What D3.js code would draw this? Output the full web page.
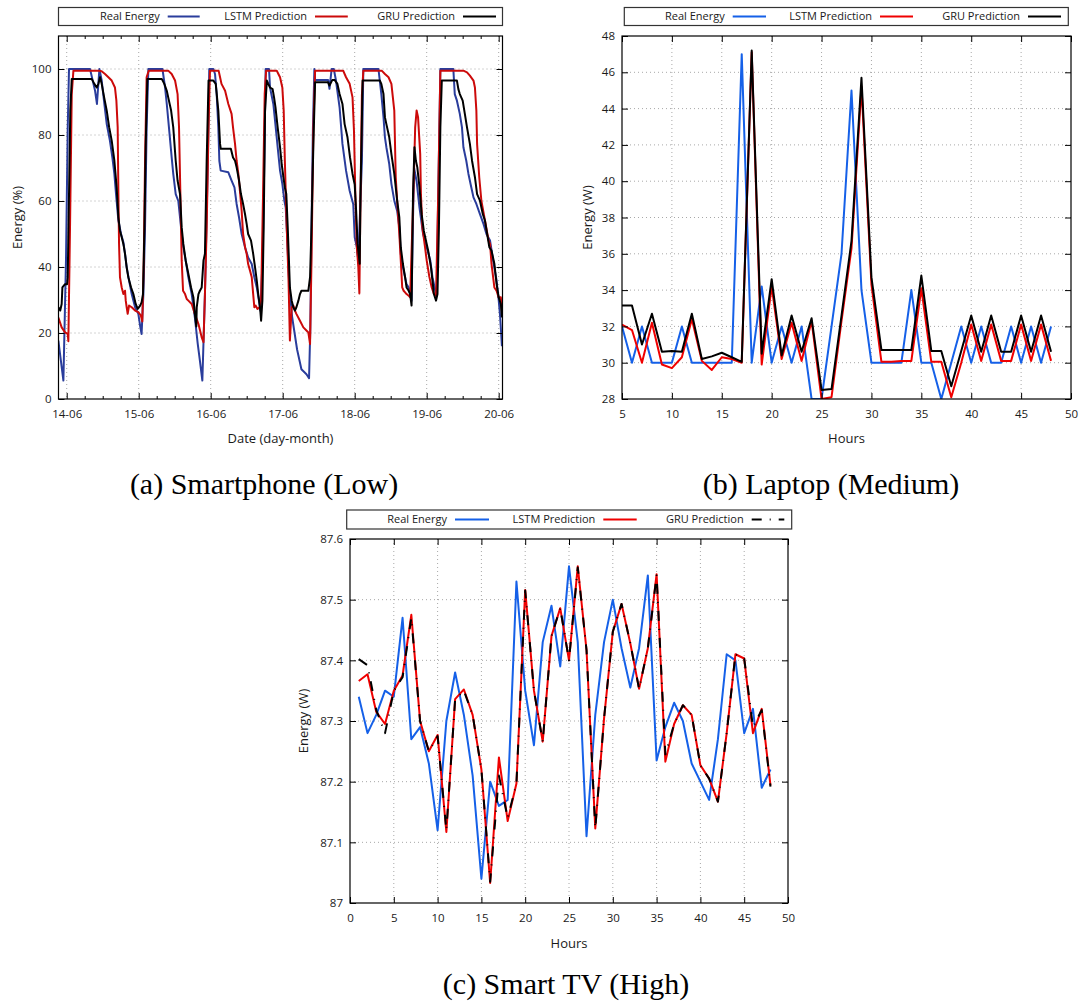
<!DOCTYPE html>
<html><head><meta charset="utf-8">
<script src="https://cdn.jsdelivr.net/npm/d3@7/dist/d3.min.js"></script>
<style>
body{margin:0;background:#fff}
text{font-family:"Open Sans",sans-serif;fill:#1a1a1a}
.grid{stroke:#a8a8a8;stroke-width:1;stroke-dasharray:1,3}
.cap{font-family:"Liberation Serif","Times New Roman",serif;font-size:30px;fill:#000}
</style>
</head><body>
<script>
// ---------- Panel (a) Smartphone: [day offset from 14-06, energy %] ----------
const dayLabels = ["14-06","15-06","16-06","17-06","18-06","19-06","20-06"];
const smartReal = [[-0.116,17.7],[-0.046,5.6],[-0.01,42],[0.014,82],[0.032,100],[0.324,100],[0.356,97],[0.394,93.4],[0.42,89.4],[0.454,100],[0.486,96.5],[0.523,89.4],[0.556,83.3],[0.60,78.3],[0.634,73.2],[0.662,68.2],[0.685,62.1],[0.718,54],[0.755,50],[0.787,47.5],[0.81,44],[0.833,39.9],[0.866,35.9],[0.903,31.8],[0.95,27.8],[0.995,25.8],[1.023,21.7],[1.04,19.7],[1.065,31.8],[1.088,52],[1.11,82],[1.134,100],[1.33,100],[1.366,94.4],[1.39,89.4],[1.42,82.3],[1.458,73.2],[1.48,68.2],[1.514,62.1],[1.55,60],[1.574,55],[1.597,50],[1.62,46],[1.653,41.9],[1.69,36.9],[1.736,31.8],[1.78,24.7],[1.82,16.7],[1.85,11.6],[1.884,5.6],[1.92,31.8],[1.96,72],[1.98,100],[2.037,100],[2.06,98.5],[2.083,92.4],[2.106,82.3],[2.12,72.2],[2.139,69.2],[2.245,68.7],[2.29,66.2],[2.33,64.1],[2.36,59.1],[2.394,55],[2.43,50],[2.477,46],[2.52,42.9],[2.57,40.9],[2.606,36.9],[2.64,33.8],[2.67,29.8],[2.69,26.8],[2.72,41.9],[2.745,72.2],[2.763,100],[2.81,100],[2.824,94.4],[2.87,89.4],[2.894,84.3],[2.93,76.3],[2.963,69.2],[2.995,65.2],[3.023,60.1],[3.042,58],[3.06,50],[3.09,35],[3.13,25],[3.2,15],[3.26,9],[3.33,7.5],[3.366,6.3],[3.384,21.7],[3.40,52],[3.42,82.3],[3.44,100],[3.45,96.7],[3.63,96.7],[3.65,94],[3.68,100],[3.71,100],[3.74,96.5],[3.79,88.4],[3.83,77.3],[3.88,69.2],[3.93,63.1],[3.98,59],[4.0,49],[4.03,46],[4.05,42],[4.1,72],[4.12,100],[4.33,100],[4.37,92.4],[4.4,85.4],[4.42,79.3],[4.44,76.3],[4.48,71.2],[4.51,65.2],[4.55,60.1],[4.59,57],[4.62,52],[4.64,44],[4.67,40],[4.7,36.9],[4.72,34.8],[4.75,33.8],[4.77,31.8],[4.79,29.8],[4.81,55],[4.825,70],[4.86,66],[4.9,58],[4.95,50],[5.0,46],[5.05,42],[5.08,36.9],[5.12,32.8],[5.14,31.8],[5.16,62],[5.19,100],[5.37,100],[5.39,92.4],[5.42,90.4],[5.46,86.4],[5.49,82.3],[5.51,76.3],[5.55,72.2],[5.58,68.2],[5.62,64.1],[5.65,61.1],[5.69,59.1],[5.74,56],[5.79,53],[5.83,50],[5.88,48],[5.93,41],[5.97,36],[6.0,30],[6.02,25],[6.045,16]];
const smartLSTM = [[-0.116,24.7],[-0.07,21.7],[-0.023,20.2],[0.014,19.7],[0.023,17.5],[0.046,52],[0.07,92.4],[0.093,99.5],[0.44,99.5],[0.486,99.3],[0.532,98.5],[0.579,97.5],[0.625,96.5],[0.67,94.4],[0.69,90.4],[0.708,82.3],[0.718,62],[0.727,47],[0.74,36.9],[0.764,33.8],[0.787,31.8],[0.81,32.8],[0.82,29.8],[0.833,27.8],[0.847,25.8],[0.866,28.3],[0.903,27.8],[0.95,26.8],[0.995,26.3],[1.03,25.3],[1.05,23.5],[1.07,42],[1.088,72],[1.11,97.5],[1.14,99.5],[1.41,99.5],[1.458,98.5],[1.505,96.5],[1.54,92.4],[1.56,82.3],[1.579,62],[1.597,42],[1.616,32.8],[1.644,31.8],[1.667,30.3],[1.69,29.8],[1.736,28.8],[1.78,25.8],[1.83,22.7],[1.875,18.7],[1.9,17.2],[1.92,31.8],[1.944,52],[1.97,82.3],[1.99,99.5],[2.11,99.5],[2.13,97.5],[2.15,95.5],[2.2,93.4],[2.245,89.4],[2.29,86.4],[2.31,82.3],[2.338,77.3],[2.36,72.2],[2.384,68.2],[2.41,62.1],[2.43,57],[2.45,50],[2.477,46],[2.5,43.9],[2.52,40.9],[2.546,38.9],[2.57,36.9],[2.59,31.8],[2.606,27.8],[2.625,28.3],[2.65,27.3],[2.68,27.8],[2.7,29.8],[2.727,62],[2.75,92.4],[2.77,99.5],[2.917,99.5],[2.94,98.5],[2.963,97.5],[2.995,94.4],[3.014,87.4],[3.03,72.2],[3.056,52],[3.08,36.9],[3.1,17.7],[3.125,27.8],[3.148,28.3],[3.17,26.8],[3.19,25.8],[3.24,23.7],[3.287,21.7],[3.333,20.7],[3.356,20.2],[3.38,16.7],[3.4,42],[3.426,82.3],[3.45,99.5],[3.84,99.5],[3.88,97.5],[3.93,95.5],[3.97,91.4],[3.99,81.3],[4.01,61.1],[4.03,46],[4.05,40],[4.065,32],[4.08,60],[4.1,92],[4.12,99.5],[4.375,99.5],[4.42,98.5],[4.47,97.5],[4.51,95.5],[4.55,87.4],[4.56,77.3],[4.57,67.2],[4.59,60],[4.62,50],[4.64,42],[4.66,33.8],[4.68,32.8],[4.7,32.3],[4.72,31.8],[4.75,31.3],[4.77,30.8],[4.815,62],[4.84,82.3],[4.86,87.4],[4.88,85.4],[4.91,74.2],[4.92,62],[4.94,52],[4.977,46],[5.0,42],[5.037,37],[5.07,33.8],[5.1,31.8],[5.13,31.3],[5.16,62],[5.19,99.5],[5.51,99.5],[5.56,99],[5.6,98],[5.65,96.5],[5.67,94.4],[5.69,87.4],[5.7,77.3],[5.73,67.2],[5.76,60],[5.81,54],[5.86,48],[5.88,47],[5.9,41],[5.94,33.8],[5.97,32.8],[6.0,30.8],[6.03,30.8],[6.045,26.8]];
const smartGRU = [[-0.116,27.8],[-0.09,26.8],[-0.07,28.8],[-0.06,33.8],[-0.023,34.8],[0.005,34.8],[0.014,36.9],[0.032,62],[0.05,87.4],[0.07,97],[0.347,97],[0.384,95.5],[0.417,94.4],[0.44,95.5],[0.463,97.5],[0.486,95.5],[0.52,91.4],[0.556,87.4],[0.59,82.3],[0.625,78.3],[0.662,72.2],[0.694,64.1],[0.718,55],[0.74,51],[0.764,49],[0.787,47],[0.81,44],[0.833,39.9],[0.856,36.9],[0.894,33.8],[0.926,31.8],[0.958,28.8],[0.986,27.3],[1.02,28.3],[1.04,29.3],[1.06,31.8],[1.08,52],[1.097,77],[1.12,97],[1.32,97],[1.356,95.5],[1.39,93.4],[1.41,91.4],[1.45,87.4],[1.48,82.3],[1.514,72.2],[1.54,66.2],[1.574,62.1],[1.597,52],[1.62,47],[1.653,41.9],[1.69,37.9],[1.727,33.8],[1.76,30.8],[1.78,25.8],[1.8,22],[1.806,27.8],[1.83,31.8],[1.85,32.8],[1.875,33.8],[1.9,42],[1.92,44],[1.944,72.2],[1.97,96.5],[2.037,96.5],[2.07,95.5],[2.106,87.4],[2.13,77.3],[2.14,75.8],[2.28,75.8],[2.31,73.2],[2.338,72.2],[2.36,70.2],[2.394,66.2],[2.42,62.1],[2.45,59.1],[2.477,56],[2.5,53],[2.52,50],[2.56,48],[2.59,44],[2.616,39.9],[2.64,35.9],[2.66,31.8],[2.685,27.8],[2.7,23.7],[2.718,29.8],[2.736,52],[2.755,87.4],[2.78,96.5],[2.8,95.5],[2.824,94.4],[2.86,93.9],[2.88,91.4],[2.9,88.4],[2.93,82.3],[2.963,76.3],[2.986,71.2],[3.01,67.2],[3.03,64.1],[3.05,62.1],[3.07,52],[3.09,40],[3.1,33.8],[3.125,29.8],[3.148,27.8],[3.17,26.8],[3.19,27.8],[3.218,29.8],[3.24,31.8],[3.26,32.8],[3.356,32.8],[3.38,36.9],[3.4,52],[3.426,77],[3.45,96],[3.63,96],[3.65,95],[3.69,96.7],[3.72,96.7],[3.76,95.5],[3.79,92.4],[3.83,89.4],[3.86,83.3],[3.9,79.3],[3.935,73.2],[3.97,68.2],[4.0,65],[4.02,57],[4.04,47],[4.07,41],[4.08,61],[4.11,96.5],[4.35,96.5],[4.37,95.5],[4.4,92.4],[4.42,85.4],[4.44,83.3],[4.48,79.3],[4.51,74.2],[4.55,68.2],[4.59,60.1],[4.62,55],[4.64,46],[4.67,40.9],[4.7,36.9],[4.72,33.8],[4.75,32.8],[4.77,31.8],[4.79,28.3],[4.81,62],[4.83,76.3],[4.85,72.2],[4.87,70.2],[4.9,64.1],[4.93,56],[4.96,51],[4.99,48],[5.02,45],[5.06,39.9],[5.08,35.9],[5.1,31.8],[5.13,29.8],[5.15,31.8],[5.17,52],[5.19,82.3],[5.21,96.5],[5.42,96.5],[5.44,93.9],[5.46,92.4],[5.5,90.4],[5.53,86.4],[5.56,82.3],[5.6,77.3],[5.63,72.2],[5.67,67.2],[5.7,62.1],[5.74,60.1],[5.78,56],[5.81,54],[5.84,50],[5.87,46],[5.9,45],[5.94,41],[5.97,35],[6.0,30.8],[6.03,28.8],[6.045,24.7]];

// ---------- Panel (b) Laptop ----------
const laptopHours = [5,6,7,8,9,10,11,12,13,14,15,16,17,18,19,20,21,22,23,24,25,26,27,28,29,30,31,32,33,34,35,36,37,38,39,40,41,42,43,44,45,46,47,48];
const laptopReal = [32,30,32,30,30,30,32,30,30,30,30,30,47,30,34.2,30,32,30,32,28,28,32,36,45,34,30,30,30,30,34,30,30,28,30,32,30,32,30,30,32,30,32,30,32];
const laptopLSTM = [32.1,31.8,30.0,32.2,29.9,29.7,30.3,32.4,30.1,29.6,30.3,30.2,30.0,47.1,29.9,34.2,30.2,32.2,30.1,32.3,28.0,28.1,32.3,36.3,45.2,34.3,30.05,30.05,30.1,30.1,34.1,30.05,30.05,28.1,30.0,32.1,30.1,32.1,30.1,30.1,32.1,30.1,32.1,30.1];
const laptopGRU = [33.15,33.15,31.0,32.7,30.6,30.65,30.6,32.7,30.2,30.35,30.55,30.3,30.05,47.2,30.5,34.6,30.4,32.6,30.6,32.45,28.5,28.55,32.6,36.7,45.7,34.7,30.7,30.7,30.7,30.7,34.8,30.65,30.65,28.7,30.65,32.6,30.6,32.6,30.6,30.6,32.6,30.6,32.6,30.6];

// ---------- Panel (c) Smart TV ----------
const tvHours = [1,2,3,4,5,6,7,8,9,10,11,12,13,14,15,16,17,18,19,20,21,22,23,24,25,26,27,28,29,30,31,32,33,34,35,36,37,38,39,40,41,42,43,44,45,46,47,48];
const tvReal = [87.34,87.28,87.31,87.35,87.34,87.47,87.27,87.29,87.23,87.12,87.30,87.38,87.31,87.21,87.04,87.20,87.16,87.17,87.53,87.35,87.26,87.43,87.49,87.39,87.555,87.43,87.11,87.31,87.43,87.50,87.42,87.355,87.42,87.54,87.235,87.29,87.33,87.30,87.23,87.20,87.17,87.27,87.41,87.40,87.28,87.32,87.19,87.22];
const tvLSTM = [87.366,87.377,87.315,87.295,87.35,87.375,87.475,87.30,87.25,87.277,87.117,87.336,87.352,87.31,87.22,87.033,87.24,87.135,87.197,87.516,87.35,87.266,87.44,87.486,87.40,87.555,87.417,87.123,87.304,87.447,87.493,87.428,87.353,87.42,87.542,87.233,87.295,87.326,87.31,87.227,87.205,87.167,87.28,87.41,87.403,87.28,87.32,87.194];
const tvGRU = [87.402,87.392,87.318,87.28,87.35,87.372,87.47,87.30,87.25,87.275,87.12,87.335,87.35,87.31,87.22,87.035,87.21,87.14,87.197,87.515,87.35,87.266,87.44,87.486,87.40,87.553,87.417,87.123,87.304,87.447,87.493,87.428,87.353,87.42,87.54,87.245,87.295,87.326,87.31,87.227,87.205,87.167,87.28,87.41,87.403,87.29,87.318,87.192];

const seriesNames = ["Real Energy","LSTM Prediction","GRU Prediction"];
const tvYTicks = [87,87.1,87.2,87.3,87.4,87.5,87.6];
const tvYLabels = ["87","87.1","87.2","87.3","87.4","87.5","87.6"];

const zip = (xs, ys) => xs.map((v,i)=>[v, ys[i]]);

const svg = d3.select("body").append("svg").attr("width",1084).attr("height",1003);
svg.append("rect").attr("width",1084).attr("height",1003).attr("fill","#fff");

let clipId = 0;
function panel(o){
  const g = svg.append("g");
  const x = d3.scaleLinear().domain(o.xDomain).range([o.L,o.R]);
  const y = d3.scaleLinear().domain(o.yDomain).range([o.B,o.T]);
  g.append("g").selectAll("line").data(o.xTicks.filter(v=>x(v)>o.L+1&&x(v)<o.R-1)).join("line")
    .attr("class","grid").attr("x1",d=>x(d)).attr("x2",d=>x(d)).attr("y1",o.T).attr("y2",o.B);
  g.append("g").selectAll("line").data(o.yTicks.filter(v=>y(v)<o.B-1&&y(v)>o.T+1)).join("line")
    .attr("class","grid").attr("y1",d=>y(d)).attr("y2",d=>y(d)).attr("x1",o.L).attr("x2",o.R);
  const id = "clip"+(clipId++);
  svg.append("clipPath").attr("id",id).append("rect").attr("x",o.L).attr("y",o.T).attr("width",o.R-o.L).attr("height",o.B-o.T);
  const line = d3.line().x(d=>x(d[0])).y(d=>y(d[1]));
  const lg = g.append("g").attr("clip-path",`url(#${id})`);
  o.series.forEach(s=>{
    lg.append("path").datum(s.data).attr("d",line).attr("fill","none")
      .attr("stroke",s.color).attr("stroke-width",s.width||2)
      .attr("stroke-linejoin","round").attr("stroke-dasharray",s.dash||null);
  });
  const noDomain = a=>a.select(".domain").remove();
  const tickStyle = a=>{a.selectAll("line").attr("stroke","#000"); a.selectAll("text").style("font-size","11.5px").attr("fill","#1a1a1a");};
  g.append("g").attr("transform",`translate(0,${o.B})`)
    .call(d3.axisBottom(x).tickValues(o.xTicks).tickFormat(o.xFmt).tickSizeInner(-6).tickSizeOuter(0).tickPadding(11))
    .call(noDomain).call(tickStyle);
  g.append("g").attr("transform",`translate(0,${o.T})`)
    .call(d3.axisTop(x).tickValues(o.xTicks).tickFormat("").tickSizeInner(-6).tickSizeOuter(0))
    .call(noDomain).call(tickStyle);
  g.append("g").attr("transform",`translate(${o.L},0)`)
    .call(d3.axisLeft(y).tickValues(o.yTicks).tickFormat(o.yFmt).tickSizeInner(-6).tickSizeOuter(0).tickPadding(7))
    .call(noDomain).call(tickStyle);
  g.append("g").attr("transform",`translate(${o.R},0)`)
    .call(d3.axisRight(y).tickValues(o.yTicks).tickFormat("").tickSizeInner(-6).tickSizeOuter(0))
    .call(noDomain).call(tickStyle);
  if(o.xMinor){
    g.append("g").attr("transform",`translate(0,${o.B})`)
      .call(d3.axisBottom(x).tickValues(o.xMinor).tickFormat("").tickSizeInner(-3).tickSizeOuter(0)).call(noDomain).call(tickStyle);
    g.append("g").attr("transform",`translate(0,${o.T})`)
      .call(d3.axisTop(x).tickValues(o.xMinor).tickFormat("").tickSizeInner(-3).tickSizeOuter(0)).call(noDomain).call(tickStyle);
  }
  g.append("rect").attr("x",o.L).attr("y",o.T).attr("width",o.R-o.L).attr("height",o.B-o.T)
    .attr("fill","none").attr("stroke","#000").attr("stroke-width",1.2);
  const lb = o.legend;
  g.append("rect").attr("x",lb.x0).attr("y",lb.y0).attr("width",lb.x1-lb.x0).attr("height",lb.y1-lb.y0)
    .attr("fill","#fff").attr("stroke","#333").attr("stroke-width",1.2);
  const cy = (lb.y0+lb.y1)/2;
  o.series.forEach((s,i)=>{
    const [s0,s1] = lb.samples[i];
    g.append("text").attr("x",s0-8).attr("y",cy).attr("dy","0.35em").attr("text-anchor","end")
      .style("font-size","11px").text(seriesNames[i]);
    g.append("line").attr("x1",s0).attr("x2",s1).attr("y1",cy).attr("y2",cy)
      .attr("stroke",s.color).attr("stroke-width",s.width||2).attr("stroke-dasharray",s.dash||null);
  });
  g.append("text").attr("transform",`translate(${o.yLabelX},${(o.T+o.B)/2}) rotate(-90)`)
    .attr("text-anchor","middle").attr("dy","0.35em").style("font-size","13px").text(o.yLabel);
  g.append("text").attr("x",(o.L+o.R)/2).attr("y",o.xLabelY).attr("dy","0.35em")
    .attr("text-anchor","middle").style("font-size","13px").text(o.xLabel);
  svg.append("text").attr("class","cap").attr("x",o.capX).attr("y",o.capY)
    .attr("text-anchor","middle").text(o.caption);
}

const dayTicks = dayLabels.map((d,i)=>i);
const quarterTicks = d3.range(0.25,6,0.25).filter(v=>v%1!==0);

panel({
  L:58.5,R:502.5,T:36,B:399,
  xDomain:[-0.114,6.053], yDomain:[0,110],
  xTicks:dayTicks, xFmt:i=>dayLabels[i], xMinor:quarterTicks,
  yTicks:[0,20,40,60,80,100], yFmt:d3.format("d"),
  series:[{data:smartReal,color:"#2a3d9c"},{data:smartLSTM,color:"#cc0a0a"},{data:smartGRU,color:"#000"}],
  legend:{x0:58.5,x1:502.5,y0:7.5,y1:25.5,samples:[[167.7,199.7],[315,347.8],[463,496]]},
  yLabel:"Energy (%)", yLabelX:17, xLabel:"Date (day-month)", xLabelY:438,
  caption:"(a) Smartphone (Low)", capX:264, capY:494
});

panel({
  L:622,R:1071,T:36,B:399,
  xDomain:[5,50], yDomain:[28,48],
  xTicks:[5,10,15,20,25,30,35,40,45,50], xFmt:d3.format("d"),
  yTicks:[28,30,32,34,36,38,40,42,44,46,48], yFmt:d3.format("d"),
  series:[{data:zip(laptopHours,laptopReal),color:"#1560e8"},{data:zip(laptopHours,laptopLSTM),color:"#f00000"},{data:zip(laptopHours,laptopGRU),color:"#000"}],
  legend:{x0:624.3,x1:1068.3,y0:7.5,y1:25.5,samples:[[732.7,766],[880,913],[1028,1061]]},
  yLabel:"Energy (W)", yLabelX:587, xLabel:"Hours", xLabelY:438,
  caption:"(b) Laptop (Medium)", capX:831, capY:494
});

panel({
  L:350,R:788,T:539,B:903,
  xDomain:[0,50], yDomain:[87,87.6],
  xTicks:[0,5,10,15,20,25,30,35,40,45,50], xFmt:d3.format("d"),
  yTicks:tvYTicks, yFmt:(d,i)=>tvYLabels[i],
  series:[{data:zip(tvHours,tvReal),color:"#1560e8"},{data:zip(tvHours,tvLSTM),color:"#f00000"},{data:zip(tvHours,tvGRU),color:"#000",dash:"10,8,1,8"}],
  legend:{x0:346.7,x1:791.7,y0:510,y1:529,samples:[[751,784.3],[603.3,636.7],[751.7,784.3]].map((s,i)=>i===0?[455,489]:s)},
  yLabel:"Energy (W)", yLabelX:303, xLabel:"Hours", xLabelY:943,
  caption:"(c) Smart TV (High)", capX:566, capY:994
});
</script>
</body></html>
